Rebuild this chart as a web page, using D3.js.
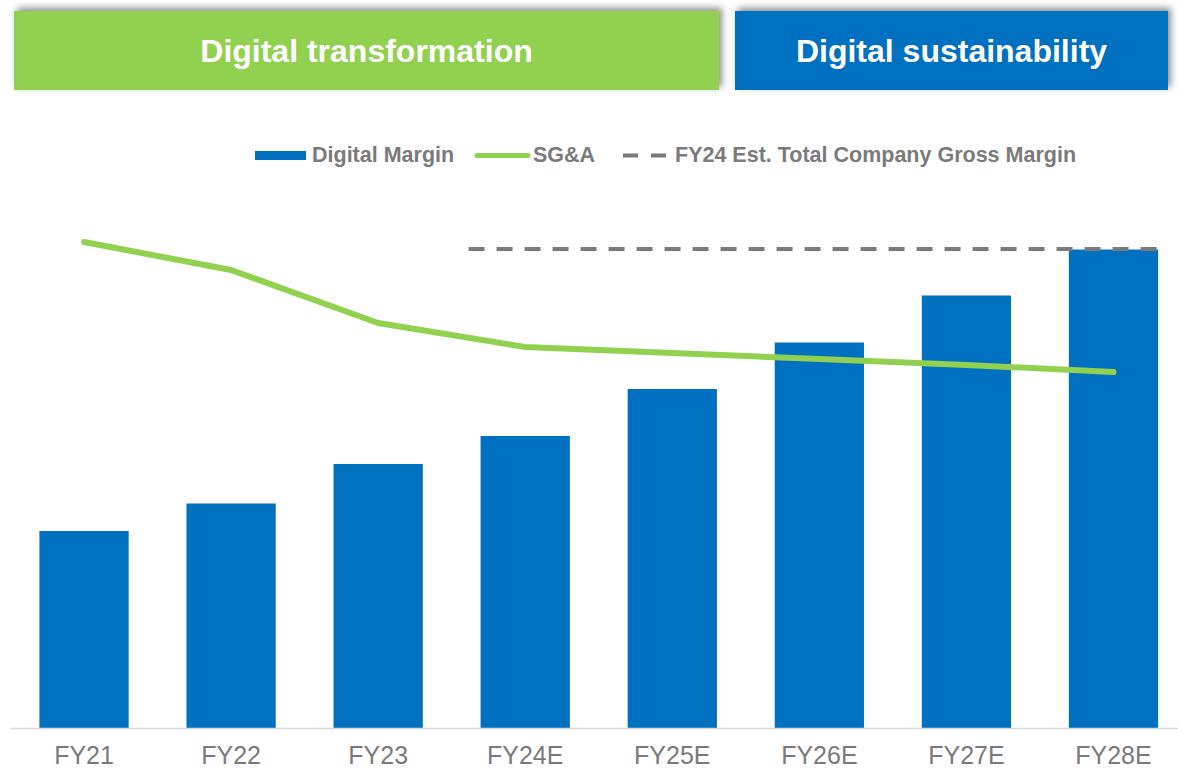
<!DOCTYPE html>
<html>
<head>
<meta charset="utf-8">
<script src="https://cdn.jsdelivr.net/npm/d3@7"></script>
<style>
  body { margin: 0; background: #fff; }
  svg { display: block; font-family: Arial, 'Liberation Sans', sans-serif; }
</style>
</head>
<body>
<div id="chart"></div>
<script>
// data
var years = ['FY21', 'FY22', 'FY23', 'FY24E', 'FY25E', 'FY26E', 'FY27E', 'FY28E']
var digitalMargin = [19.7, 22.45, 26.4, 29.2, 33.9, 38.55, 43.25, 47.85]
var sga = [48.6, 45.8, 40.5, 38.1, 37.5, 36.9, 36.3, 35.6]
var grossMargin = 47.9
var banners = [
  { label: 'Digital transformation', x0: 14, x1: 719, fill: '#92D050' },
  { label: 'Digital sustainability', x0: 735, x1: 1168, fill: '#0070C0' }
]

var width = 1178
var height = 770
var barColor = '#0070C0'
var lineColor = '#92D050'
var dashColor = '#7a7a7a'
var textColor = '#7a7a7a'

var svg = d3.select('#chart').append('svg')
  .attr('width', width)
  .attr('height', height)

// 阴影
var defs = svg.append('defs')
defs.append('filter')
  .attr('id', 'shadow')
  .attr('x', '-5%').attr('y', '-30%')
  .attr('width', '110%').attr('height', '160%')
  .append('feDropShadow')
  .attr('dx', 3).attr('dy', -3)
  .attr('stdDeviation', 3.5)
  .attr('flood-color', '#000')
  .attr('flood-opacity', 0.45)

// banners
var banner = svg.selectAll('.banner')
  .data(banners)
  .enter().append('g')
  .attr('class', 'banner')

banner.append('rect')
  .attr('x', function (d) { return d.x0 })
  .attr('y', 11)
  .attr('width', function (d) { return d.x1 - d.x0 })
  .attr('height', 79)
  .attr('fill', function (d) { return d.fill })
  .attr('filter', 'url(#shadow)')

banner.append('text')
  .attr('x', function (d) { return (d.x0 + d.x1) / 2 })
  .attr('y', 62)
  .attr('text-anchor', 'middle')
  .attr('fill', '#fff')
  .style('font-size', '32px')
  .style('font-weight', 'bold')
  .text(function (d) { return d.label })

// scales
var x = d3.scaleBand()
  .domain(years)
  .range([10.5, 1187])
  .paddingInner(0.393)
  .paddingOuter(0.1965)

var y = d3.scaleLinear()
  .domain([0, 50])
  .range([728, 228])

// bars
svg.selectAll('.bar')
  .data(digitalMargin)
  .enter().append('rect')
  .attr('class', 'bar')
  .attr('x', function (d, i) { return x(years[i]) })
  .attr('y', function (d) { return y(d) })
  .attr('width', x.bandwidth())
  .attr('height', function (d) { return y(0) - y(d) })
  .attr('fill', barColor)

// axis line
svg.append('line')
  .attr('x1', 10).attr('x2', width)
  .attr('y1', y(0) + 0.5).attr('y2', y(0) + 0.5)
  .attr('stroke', '#d9d9d9')
  .attr('stroke-width', 1.5)

// x labels
var xAxis = svg.append('g')
  .attr('transform', 'translate(0,' + y(0) + ')')
  .call(d3.axisBottom(x).tickSize(0).tickPadding(0))
xAxis.select('.domain').remove()
xAxis.selectAll('text')
  .attr('dy', null)
  .attr('y', 36)
  .attr('fill', textColor)
  .style('font-size', '25px')
  .style('font-family', 'Arial, "Liberation Sans", sans-serif')

// dashed gross margin line
svg.append('line')
  .attr('x1', x('FY24E') - 12)
  .attr('x2', x('FY28E') + x.bandwidth() + 5)
  .attr('y1', y(grossMargin))
  .attr('y2', y(grossMargin))
  .attr('stroke', dashColor)
  .attr('stroke-width', 4)
  .attr('stroke-dasharray', '16,12')

// SG&A line
var line = d3.line()
  .x(function (d, i) { return x(years[i]) + x.bandwidth() / 2 })
  .y(function (d) { return y(d) })

svg.append('path')
  .datum(sga)
  .attr('d', line)
  .attr('fill', 'none')
  .attr('stroke', lineColor)
  .attr('stroke-width', 6)
  .attr('stroke-linecap', 'round')
  .attr('stroke-linejoin', 'round')

// legend
var legend = svg.append('g').attr('class', 'legend')
legend.append('rect')
  .attr('x', 255).attr('y', 151)
  .attr('width', 51).attr('height', 9)
  .attr('fill', barColor)
legend.append('text')
  .attr('x', 312).attr('y', 162)
  .text('Digital Margin')

legend.append('line')
  .attr('x1', 477).attr('x2', 528)
  .attr('y1', 155.5).attr('y2', 155.5)
  .attr('stroke', lineColor)
  .attr('stroke-width', 5)
  .attr('stroke-linecap', 'round')
legend.append('text')
  .attr('x', 533).attr('y', 162)
  .text('SG&A')

legend.append('line')
  .attr('x1', 623).attr('x2', 666)
  .attr('y1', 155.5).attr('y2', 155.5)
  .attr('stroke', dashColor)
  .attr('stroke-width', 4)
  .attr('stroke-dasharray', '15,13')
legend.append('text')
  .attr('x', 675).attr('y', 162)
  .text('FY24 Est. Total Company Gross Margin')

legend.selectAll('text')
  .attr('fill', textColor)
  .style('font-size', '21.5px')
  .style('font-weight', 'bold')
</script>
</body>
</html>
